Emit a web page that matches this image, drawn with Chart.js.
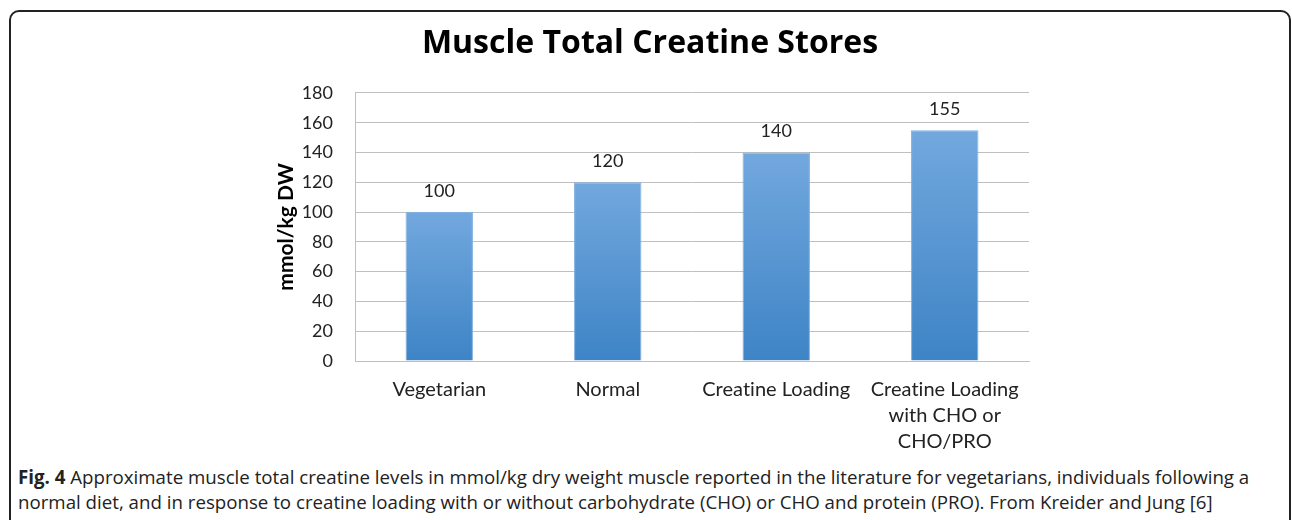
<!DOCTYPE html>
<html lang="en">
<head>
    <meta charset="UTF-8" />
    <title>Muscle Total Creatine Stores</title>
    <script src="https://cdn.jsdelivr.net/npm/chart.js"></script>
    <style>
        html, body {
            margin: 0;
            padding: 0;
            background: #fff;
        }
        .frame {
            position: absolute;
            left: 9px;
            top: 10px;
            width: 1282px;
            height: 530px;
            border: 2px solid #222;
            border-radius: 10px;
            box-sizing: border-box;
        }
        .chart-box {
            position: absolute;
            left: 0;
            top: 0;
            width: 1292px;
            height: 461px;
        }
        .caption {
            position: absolute;
            left: 18px;
            top: 464px;
            width: 1272px;
            white-space: nowrap;
            font-family: 'Open Sans', sans-serif;
            font-size: 18.7px;
            line-height: 25px;
            color: #222;
        }
        .caption b {
            font-weight: bold;
        }
    </style>
</head>
<body>
    <div class="frame"></div>
    <div class="chart-box">
        <canvas id="chart" width="1292" height="461"></canvas>
    </div>
    <div class="caption">
        <b>Fig. 4</b> Approximate muscle total creatine levels in mmol/kg dry weight muscle reported in the literature for vegetarians, individuals following a<br>
        normal diet, and in response to creatine loading with or without carbohydrate (CHO) or CHO and protein (PRO). From Kreider and Jung [6]
    </div>

    <script>
        const categories = [
            'Vegetarian',
            'Normal',
            'Creatine Loading',
            ['Creatine Loading', 'with CHO or', 'CHO/PRO']
        ];
        const creatine = [100, 120, 140, 155];
        const yMin = 0;
        const yMax = 180;
        const yStep = 20;

        const FONT = 'Lato';

        // tiny letter spacing keeps Lato from drawing the "ti" ligature
        const noLigatures = {
            id: 'noLigatures',
            beforeDraw(chart) {
                chart.ctx.letterSpacing = '0.01px';
            }
        };

        // value labels above each bar
        const barLabels = {
            id: 'barLabels',
            afterDatasetsDraw(chart) {
                const ctx = chart.ctx;
                const meta = chart.getDatasetMeta(0);
                ctx.save();
                ctx.font = '18px ' + FONT;
                ctx.fillStyle = '#222';
                ctx.textAlign = 'center';
                ctx.textBaseline = 'middle';
                meta.data.forEach((bar, i) => {
                    ctx.fillText(String(creatine[i]), bar.x, bar.y - 21);
                });
                ctx.restore();
            }
        };

        function barFill(context) {
            const chart = context.chart;
            if (!chart.chartArea) return '#5b9bd5';
            const yScale = chart.scales.y;
            const top = yScale.getPixelForValue(context.raw);
            const bottom = yScale.getPixelForValue(0);
            const g = chart.ctx.createLinearGradient(0, top, 0, bottom);
            g.addColorStop(0, '#72a8de');
            g.addColorStop(1, '#3e84c6');
            return g;
        }

        const ctx = document.getElementById('chart').getContext('2d');
        const chart = new Chart(ctx, {
            type: 'bar',
            data: {
                labels: categories,
                datasets: [{
                    data: creatine,
                    backgroundColor: barFill,
                    borderColor: '#7fb0e0',
                    borderWidth: 1,
                    categoryPercentage: 1,
                    barPercentage: 0.4
                }]
            },
            plugins: [noLigatures, barLabels],
            options: {
                responsive: false,
                animation: false,
                layout: {
                    padding: { left: 271, right: 263, top: 0, bottom: 0 }
                },
                plugins: {
                    legend: { display: false },
                    tooltip: { enabled: false },
                    title: {
                        display: true,
                        text: 'Muscle Total Creatine Stores',
                        color: '#000',
                        font: { family: 'Open Sans', size: 32, weight: 'bold' },
                        padding: { top: 25, bottom: 29.5 }
                    }
                },
                scales: {
                    x: {
                        grid: { display: false },
                        border: { display: true, color: '#bfbfbf', width: 1 },
                        ticks: {
                            color: '#222',
                            font: { family: FONT, size: 20, lineHeight: 1.32 },
                            padding: 7,
                            maxRotation: 0,
                            autoSkip: false
                        },
                        afterFit(scale) { scale.height = 100; }
                    },
                    y: {
                        min: yMin,
                        max: yMax,
                        ticks: {
                            stepSize: yStep,
                            color: '#222',
                            font: { family: FONT, size: 18 },
                            padding: 22
                        },
                        grid: { color: '#bfbfbf', lineWidth: 1, drawTicks: false },
                        border: { display: true, color: '#bfbfbf', width: 1 },
                        title: {
                            display: true,
                            text: 'mmol/kg DW',
                            color: '#000',
                            font: { family: FONT, size: 21, weight: 'bold' },
                            padding: { top: 3, bottom: 4 }
                        },
                        afterFit(scale) { scale.width = 84; }
                    }
                }
            }
        });
    </script>
</body>
</html>
